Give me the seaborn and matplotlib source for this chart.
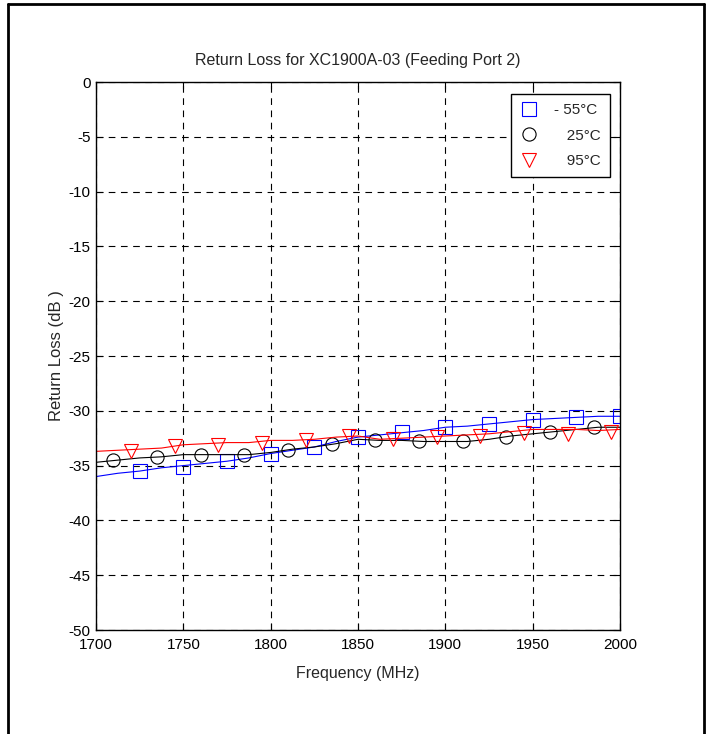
import matplotlib
matplotlib.use("Agg")
import matplotlib.pyplot as plt
from matplotlib.lines import Line2D
import seaborn as sns
import pandas as pd

sns.set_style("ticks")
plt.rcParams['font.family'] = ['Liberation Sans Narrow', 'Liberation Sans', 'DejaVu Sans']
plt.rcParams['axes.unicode_minus'] = False

# continuous traces (MHz, dB)
freq_line = [1700, 1712.5, 1725, 1737.5, 1750, 1762.5, 1775, 1787.5, 1800, 1812.5,
             1825, 1837.5, 1850, 1862.5, 1875, 1887.5, 1900, 1912.5, 1925, 1937.5,
             1950, 1962.5, 1975, 1987.5, 2000]
rl_m55_line = [-36.0, -35.7, -35.5, -35.2, -35.0, -34.8, -34.6, -34.3, -33.9, -33.6,
               -33.3, -32.8, -32.4, -32.2, -32.0, -31.8, -31.5, -31.4, -31.2, -31.0,
               -30.8, -30.7, -30.6, -30.5, -30.5]
rl_25_line = [-34.7, -34.5, -34.3, -34.2, -34.0, -34.0, -34.0, -34.0, -33.8, -33.5,
              -33.3, -33.0, -32.6, -32.7, -32.7, -32.8, -32.8, -32.8, -32.6, -32.3,
              -32.1, -31.9, -31.7, -31.5, -31.5]
rl_95_line = [-33.7, -33.6, -33.5, -33.4, -33.1, -33.0, -32.9, -32.9, -32.7, -32.7,
              -32.6, -32.4, -32.3, -32.6, -32.5, -32.4, -32.3, -32.2, -32.1, -31.9,
              -31.7, -31.7, -31.7, -31.8, -31.7]

# marker samples
freq_m55 = [1725, 1750, 1775, 1800, 1825, 1850, 1875, 1900, 1925, 1950, 1975, 2000]
rl_m55 = [-35.5, -35.1, -34.6, -33.9, -33.3, -32.4, -31.9, -31.5, -31.2, -30.8, -30.6, -30.5]
freq_25 = [1710, 1735, 1760, 1785, 1810, 1835, 1860, 1885, 1910, 1935, 1960, 1985]
rl_25 = [-34.5, -34.2, -34.0, -34.0, -33.6, -33.0, -32.7, -32.8, -32.8, -32.4, -31.9, -31.5]
freq_95 = [1720, 1745, 1770, 1795, 1820, 1845, 1870, 1895, 1920, 1945, 1970, 1995]
rl_95 = [-33.7, -33.2, -33.1, -32.9, -32.7, -32.3, -32.6, -32.4, -32.3, -32.0, -32.1, -31.9]

labels = ["- 55\u00b0C", "   25\u00b0C", "   95\u00b0C"]
colors = ["blue", "black", "red"]
markers = ["s", "o", "v"]

fig = plt.figure(figsize=(7.1, 7.34), dpi=100)
ax = fig.add_axes([96 / 710, 1 - 630 / 734, 524 / 710, 548 / 734])

lines = [rl_m55_line, rl_25_line, rl_95_line]
pts = [(freq_m55, rl_m55), (freq_25, rl_25), (freq_95, rl_95)]
for i in range(3):
    sns.lineplot(x=freq_line, y=lines[i], color=colors[i], lw=0.8, ax=ax)
    sns.lineplot(x=pts[i][0], y=pts[i][1], color=colors[i], linestyle="", marker=markers[i],
                 markersize=9.5, markerfacecolor="none", markeredgecolor=colors[i],
                 markeredgewidth=0.8, ax=ax)

ax.set_xlim(1700, 2000)
ax.set_ylim(-50, 0)
ax.set_xticks(range(1700, 2001, 50))
ax.set_yticks(range(-50, 1, 5))
ax.grid(True, color="black", linestyle=(0, (6, 5)), lw=0.8)
ax.tick_params(direction="in", top=True, right=True, length=5, width=0.8,
               labelsize=11, colors="black")
ax.tick_params(axis="x", pad=6)
ax.tick_params(axis="y", pad=4)
for s in ax.spines.values():
    s.set_linewidth(1.0)
    s.set_color("black")

ax.set_title("Return Loss for XC1900A-03 (Feeding Port 2)", fontsize=11.5, pad=12)
ax.set_xlabel("Frequency (MHz)", fontsize=11.5, labelpad=10)
ax.set_ylabel("Return Loss (dB )", fontsize=12, labelpad=3)

handles = [Line2D([], [], linestyle="", marker=markers[i], markersize=9.5,
                  markerfacecolor="none", markeredgecolor=colors[i], markeredgewidth=0.8)
           for i in range(3)]
leg = ax.legend(handles, labels, loc="upper right", bbox_to_anchor=(0.98, 0.978),
                borderaxespad=0, fancybox=False, edgecolor="black", framealpha=1,
                fontsize=11, handlelength=1.2, handletextpad=1.0, labelspacing=0.75,
                borderpad=0.6)
leg.get_frame().set_linewidth(1.0)

# page frame (left, top, right)
fig.add_artist(Line2D([8 / 710, 8 / 710], [0, 1 - 4 / 734], transform=fig.transFigure,
                      color="black", lw=2))
fig.add_artist(Line2D([8 / 710, 704 / 710], [1 - 4 / 734, 1 - 4 / 734],
                      transform=fig.transFigure, color="black", lw=2))
fig.add_artist(Line2D([704 / 710, 704 / 710], [0, 1 - 4 / 734], transform=fig.transFigure,
                      color="black", lw=2))

fig.savefig("out.png", dpi=100)
